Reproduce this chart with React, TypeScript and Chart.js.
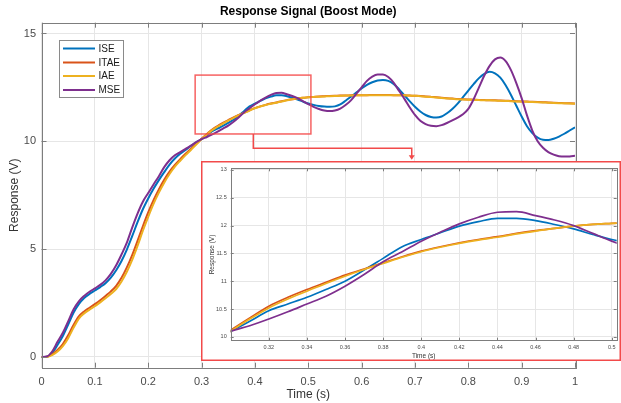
import { useEffect, useRef } from 'react';
import { Chart, registerables } from 'chart.js';

Chart.register(...registerables);

const FONT = "'Liberation Sans', Arial, Helvetica, sans-serif";

const times = [
  0, 0.01, 0.02, 0.03, 0.04, 0.05, 0.06, 0.07, 0.08, 0.09,
  0.1, 0.11, 0.12, 0.13, 0.14, 0.15, 0.16, 0.17, 0.18, 0.19,
  0.2, 0.21, 0.22, 0.23, 0.24, 0.25, 0.26, 0.27, 0.28, 0.29,
  0.3, 0.31, 0.32, 0.33, 0.34, 0.35, 0.36, 0.37, 0.38, 0.39,
  0.4, 0.41, 0.42, 0.43, 0.44, 0.45, 0.46, 0.47, 0.48, 0.49,
  0.5, 0.51, 0.52, 0.53, 0.54, 0.55, 0.56, 0.57, 0.58, 0.59,
  0.6, 0.61, 0.62, 0.63, 0.64, 0.65, 0.66, 0.67, 0.68, 0.69,
  0.7, 0.71, 0.72, 0.73, 0.74, 0.75, 0.76, 0.77, 0.78, 0.79,
  0.8, 0.81, 0.82, 0.83, 0.84, 0.85, 0.86, 0.87, 0.88, 0.89,
  0.9, 0.91, 0.92, 0.93, 0.94, 0.95, 0.96, 0.97, 0.98, 0.99,
  1.0,
];

const ise = [
  0, 0.01, 0.18, 0.55, 0.97, 1.5, 2.05, 2.45, 2.73, 2.92,
  3.08, 3.24, 3.42, 3.68, 4.02, 4.45, 4.98, 5.6, 6.25, 6.85,
  7.35, 7.8, 8.2, 8.57, 8.92, 9.2, 9.42, 9.6, 9.78, 9.95,
  10.1, 10.28, 10.47, 10.59, 10.71, 10.85, 11.0, 11.2, 11.41, 11.62,
  11.75, 11.87, 11.99, 12.07, 12.13, 12.13, 12.09, 12.02, 11.94, 11.84,
  11.75, 11.69, 11.64, 11.61, 11.6, 11.62, 11.71, 11.88, 12.07, 12.26,
  12.45, 12.62, 12.74, 12.82, 12.84, 12.8, 12.66, 12.42, 12.14, 11.86,
  11.6, 11.38, 11.22, 11.13, 11.1, 11.15, 11.3, 11.5, 11.75, 12.05,
  12.35, 12.65, 12.93, 13.13, 13.22, 13.15, 12.95, 12.6, 12.15, 11.65,
  11.15, 10.7, 10.38, 10.17, 10.07, 10.06, 10.12, 10.22, 10.35, 10.5,
  10.65,
];

const itae = [
  0, 0.01, 0.12, 0.32, 0.6, 1.0, 1.48, 1.88, 2.11, 2.28,
  2.45, 2.63, 2.83, 3.04, 3.3, 3.67, 4.15, 4.72, 5.38, 6.06,
  6.7, 7.27, 7.77, 8.21, 8.59, 8.9, 9.17, 9.42, 9.65, 9.88,
  10.12, 10.34, 10.55, 10.71, 10.85, 10.98, 11.11, 11.22, 11.33, 11.44,
  11.54, 11.62, 11.69, 11.75, 11.8, 11.86, 11.91, 11.95, 11.99, 12.02,
  12.04, 12.06, 12.08, 12.09, 12.1, 12.11, 12.12, 12.12, 12.13, 12.13,
  12.14, 12.14, 12.15, 12.15, 12.15, 12.15, 12.14, 12.14, 12.13, 12.12,
  12.11, 12.1, 12.08, 12.06, 12.04, 12.02, 12.0, 11.98, 11.96, 11.95,
  11.94, 11.93, 11.92, 11.91, 11.9, 11.9, 11.89, 11.88, 11.87, 11.86,
  11.85, 11.84, 11.83, 11.82, 11.81, 11.8, 11.79, 11.78, 11.77, 11.76,
  11.75,
];

const iae = [
  0, 0, 0.08, 0.25, 0.5, 0.87, 1.35, 1.78, 2.02, 2.19,
  2.35, 2.53, 2.72, 2.92, 3.15, 3.5, 3.95, 4.5, 5.15, 5.85,
  6.5, 7.1, 7.62, 8.08, 8.48, 8.82, 9.1, 9.36, 9.6, 9.85,
  10.1, 10.32, 10.52, 10.68, 10.82, 10.96, 11.09, 11.21, 11.32, 11.43,
  11.53, 11.61, 11.68, 11.74, 11.79, 11.85, 11.9, 11.95, 11.99, 12.02,
  12.04, 12.06, 12.07, 12.08, 12.09, 12.1, 12.11, 12.12, 12.12, 12.13,
  12.13, 12.14, 12.14, 12.14, 12.14, 12.14, 12.14, 12.13, 12.13, 12.12,
  12.11, 12.09, 12.07, 12.05, 12.03, 12.01, 11.99, 11.97, 11.95, 11.94,
  11.93, 11.92, 11.91, 11.9, 11.9, 11.89, 11.88, 11.87, 11.86, 11.85,
  11.84, 11.83, 11.82, 11.81, 11.8, 11.79, 11.78, 11.77, 11.76, 11.75,
  11.74,
];

const mse = [
  0, 0.02, 0.25, 0.7, 1.12, 1.65, 2.2, 2.58, 2.83, 3.02,
  3.18, 3.34, 3.55, 3.85, 4.25, 4.75, 5.3, 6.0, 6.65, 7.2,
  7.6, 8.0, 8.38, 8.8, 9.12, 9.35, 9.5, 9.65, 9.8, 9.96,
  10.1, 10.2, 10.32, 10.45, 10.59, 10.73, 10.91, 11.12, 11.35, 11.53,
  11.72, 11.88, 12.03, 12.15, 12.24, 12.25, 12.18, 12.1, 12.0, 11.86,
  11.72, 11.6, 11.5, 11.43, 11.4, 11.43, 11.52, 11.68, 11.9, 12.2,
  12.5, 12.8, 13.0, 13.1, 13.1, 12.98, 12.72, 12.35, 11.98, 11.58,
  11.22, 10.95, 10.8, 10.72, 10.7, 10.75, 10.85, 10.97, 11.1, 11.25,
  11.5, 11.95, 12.5, 13.05, 13.5, 13.8, 13.89, 13.72, 13.3, 12.7,
  12.0, 11.2, 10.5, 10.0, 9.7, 9.5, 9.38, 9.31, 9.29, 9.3,
  9.33,
];

const seriesLabels = ['ISE', 'ITAE', 'IAE', 'MSE'];
const seriesColors = ['#0072BD', '#D95319', '#EDB120', '#7E2F8E'];
const seriesData = [ise, itae, iae, mse];

const xTicks = [0, 0.1, 0.2, 0.3, 0.4, 0.5, 0.6, 0.7, 0.8, 0.9, 1];
const xTickLabels = ['0', '0.1', '0.2', '0.3', '0.4', '0.5', '0.6', '0.7', '0.8', '0.9', '1'];
const yTicks = [0, 5, 10, 15];
const yTickLabels = ['0', '5', '10', '15'];

const insetXTicks = [0.32, 0.34, 0.36, 0.38, 0.4, 0.42, 0.44, 0.46, 0.48, 0.5];
const insetXTickLabels = ['0.32', '0.34', '0.36', '0.38', '0.4', '0.42', '0.44', '0.46', '0.48', '0.5'];
const insetYTicks = [10, 10.5, 11, 11.5, 12, 12.5, 13];
const insetYTickLabels = ['10', '10.5', '11', '11.5', '12', '12.5', '13'];

// zoom window drawn on the main axes (data coordinates)
const zoomBox = { x0: 0.288, x1: 0.505, y0: 10.34, y1: 13.07 };
const connector = { xStart: 0.397, yElbow: 9.68, xEnd: 0.694, yEnd: 9.14 };

const TITLE = 'Response Signal (Boost Mode)';
const X_LABEL = 'Time (s)';
const Y_LABEL = 'Response (V)';

const GRID = '#e6e6e6';
const AXIS = '#7d7d7d';
const TICKTXT = '#4a4a4a';
const RED = '#f24a4a';

function makeDatasets(width: number) {
  // drawing order: ISE bottom, MSE on top
  const orders = [3, 2, 1, 0];
  return seriesData.map((arr, k) => ({
    label: seriesLabels[k],
    data: times.map((t, i) => ({ x: t, y: arr[i] })),
    borderColor: seriesColors[k],
    backgroundColor: seriesColors[k],
    borderWidth: width,
    pointRadius: 0,
    fill: false,
    cubicInterpolationMode: 'monotone' as const,
    order: orders[k],
  }));
}

function drawFrame(chart: any, tickLen: number) {
  const { ctx, chartArea: a, scales } = chart;
  ctx.save();
  ctx.strokeStyle = AXIS;
  ctx.lineWidth = 1;
  ctx.beginPath();
  scales.x.ticks.forEach((t: any) => {
    const px = Math.round(scales.x.getPixelForValue(t.value)) + 0.5;
    ctx.moveTo(px, a.bottom);
    ctx.lineTo(px, a.bottom - tickLen);
    ctx.moveTo(px, a.top);
    ctx.lineTo(px, a.top + tickLen);
  });
  scales.y.ticks.forEach((t: any) => {
    const py = Math.round(scales.y.getPixelForValue(t.value)) + 0.5;
    ctx.moveTo(a.left, py);
    ctx.lineTo(a.left + tickLen, py);
    ctx.moveTo(a.right, py);
    ctx.lineTo(a.right - tickLen, py);
  });
  ctx.stroke();
  ctx.strokeRect(Math.round(a.left) + 0.5, Math.round(a.top) + 0.5, Math.round(a.right - a.left), Math.round(a.bottom - a.top));
  ctx.restore();
}

const mainDecor = {
  id: 'mainDecor',
  beforeDraw(chart: any) {
    const { ctx, width, height } = chart;
    ctx.save();
    ctx.fillStyle = '#ffffff';
    ctx.fillRect(0, 0, width, height);
    ctx.restore();
  },
  afterDatasetsDraw(chart: any) {
    const { ctx, chartArea: a, scales } = chart;
    drawFrame(chart, 5);
    const cx = (a.left + a.right) / 2;
    ctx.save();
    // title and labels
    ctx.fillStyle = '#000000';
    ctx.textAlign = 'center';
    ctx.textBaseline = 'middle';
    ctx.font = `bold 12px ${FONT}`;
    ctx.fillText(TITLE, cx, 12);
    ctx.fillStyle = '#333333';
    ctx.font = `12px ${FONT}`;
    ctx.fillText(X_LABEL, cx, 395);
    ctx.save();
    ctx.translate(15, (a.top + a.bottom) / 2);
    ctx.rotate(-Math.PI / 2);
    ctx.fillText(Y_LABEL, 0, 0);
    ctx.restore();

    // zoom rectangle
    const x = scales.x, y = scales.y;
    const rx0 = x.getPixelForValue(zoomBox.x0), rx1 = x.getPixelForValue(zoomBox.x1);
    const ry0 = y.getPixelForValue(zoomBox.y1), ry1 = y.getPixelForValue(zoomBox.y0);
    ctx.strokeStyle = 'rgba(245,70,70,0.85)';
    ctx.lineWidth = 1.5;
    ctx.strokeRect(rx0, ry0, rx1 - rx0, ry1 - ry0);

    // connector with arrow
    const sx = x.getPixelForValue(connector.xStart);
    const ey = y.getPixelForValue(connector.yElbow);
    const ex = x.getPixelForValue(connector.xEnd);
    const ay = y.getPixelForValue(connector.yEnd);
    ctx.strokeStyle = RED;
    ctx.lineWidth = 1.5;
    ctx.beginPath();
    ctx.moveTo(sx, ry1);
    ctx.lineTo(sx, ey);
    ctx.lineTo(ex, ey);
    ctx.lineTo(ex, ay - 3);
    ctx.stroke();
    ctx.fillStyle = RED;
    ctx.beginPath();
    ctx.moveTo(ex - 3, ay - 4.5);
    ctx.lineTo(ex + 3, ay - 4.5);
    ctx.lineTo(ex, ay);
    ctx.closePath();
    ctx.fill();

    // legend
    const lx = 59.5, ly = 40.5, lw = 64, lh = 57;
    ctx.fillStyle = '#ffffff';
    ctx.fillRect(lx, ly, lw, lh);
    ctx.strokeStyle = '#8a8a8a';
    ctx.lineWidth = 1;
    ctx.strokeRect(lx, ly, lw, lh);
    const rows = [48.5, 62.5, 76, 90];
    ctx.font = `10px ${FONT}`;
    ctx.textAlign = 'left';
    ctx.textBaseline = 'middle';
    seriesLabels.forEach((lab, k) => {
      ctx.strokeStyle = seriesColors[k];
      ctx.lineWidth = 2;
      ctx.beginPath();
      ctx.moveTo(63, rows[k]);
      ctx.lineTo(95, rows[k]);
      ctx.stroke();
      ctx.fillStyle = '#1a1a1a';
      ctx.fillText(lab, 98.5, rows[k] + 0.5);
    });
    ctx.restore();
  },
};

const insetDecor = {
  id: 'insetDecor',
  beforeDraw(chart: any) {
    const { ctx, width, height } = chart;
    ctx.save();
    ctx.fillStyle = '#ffffff';
    ctx.fillRect(0, 0, width, height);
    ctx.restore();
  },
  afterDatasetsDraw(chart: any) {
    const { ctx, chartArea: a, width, height } = chart;
    drawFrame(chart, 3);
    ctx.save();
    ctx.fillStyle = '#333333';
    ctx.textAlign = 'center';
    ctx.textBaseline = 'middle';
    ctx.font = `6.5px ${FONT}`;
    ctx.fillText(X_LABEL, (a.left + a.right) / 2, 195.5);
    ctx.translate(11, (a.top + a.bottom) / 2);
    ctx.rotate(-Math.PI / 2);
    ctx.fillText(Y_LABEL, 0, 0);
    ctx.restore();
    ctx.save();
    ctx.strokeStyle = RED;
    ctx.lineWidth = 1.5;
    ctx.strokeRect(0.75, 0.75, width - 1.5, height - 1.5);
    ctx.restore();
  },
};

export default function App() {
  const mainRef = useRef<HTMLCanvasElement>(null);
  const insetRef = useRef<HTMLCanvasElement>(null);

  useEffect(() => {
    document.body.style.margin = '0';
    const main = new Chart(mainRef.current as HTMLCanvasElement, {
      type: 'line',
      data: { datasets: makeDatasets(2) as any },
      options: {
        animation: false,
        responsive: false,
        devicePixelRatio: 1,
        layout: { padding: { left: 0, top: 22.7, right: 46, bottom: 0 } },
        plugins: { legend: { display: false }, tooltip: { enabled: false }, title: { display: false } },
        scales: {
          x: {
            type: 'linear',
            min: 0,
            max: 1,
            afterBuildTicks: (s: any) => { s.ticks = xTicks.map((v) => ({ value: v })); },
            afterFit: (s: any) => { s.height = 35.3; },
            ticks: {
              callback: (_v: any, i: number) => xTickLabels[i],
              color: TICKTXT,
              font: { family: FONT, size: 11 },
              padding: 8,
              maxRotation: 0,
              autoSkip: false,
            },
            grid: { color: GRID, drawTicks: false },
            border: { display: false },
          },
          y: {
            type: 'linear',
            min: -0.5,
            max: 15.5,
            afterBuildTicks: (s: any) => { s.ticks = yTicks.map((v) => ({ value: v })); },
            afterFit: (s: any) => { s.width = 41.5; },
            ticks: {
              callback: (_v: any, i: number) => yTickLabels[i],
              color: TICKTXT,
              font: { family: FONT, size: 11 },
              padding: 5.5,
              autoSkip: false,
            },
            grid: { color: GRID, drawTicks: false },
            border: { display: false },
          },
        },
      },
      plugins: [mainDecor],
    });

    const inset = new Chart(insetRef.current as HTMLCanvasElement, {
      type: 'line',
      data: { datasets: makeDatasets(1.7) as any },
      options: {
        animation: false,
        responsive: false,
        devicePixelRatio: 1,
        layout: { padding: { left: 0, top: 4, right: 4.3, bottom: 0 } },
        plugins: { legend: { display: false }, tooltip: { enabled: false }, title: { display: false } },
        scales: {
          x: {
            type: 'linear',
            min: 0.3,
            max: 0.5026,
            afterBuildTicks: (s: any) => { s.ticks = insetXTicks.map((v) => ({ value: v })); },
            afterFit: (s: any) => { s.height = 20.3; },
            ticks: {
              callback: (_v: any, i: number) => insetXTickLabels[i],
              color: TICKTXT,
              font: { family: FONT, size: 5.5 },
              padding: 3,
              maxRotation: 0,
              autoSkip: false,
            },
            grid: { color: GRID, drawTicks: false },
            border: { display: false },
          },
          y: {
            type: 'linear',
            min: 9.93,
            max: 13.03,
            afterBuildTicks: (s: any) => { s.ticks = insetYTicks.map((v) => ({ value: v })); },
            afterFit: (s: any) => { s.width = 29.7; },
            ticks: {
              callback: (_v: any, i: number) => insetYTickLabels[i],
              color: TICKTXT,
              font: { family: FONT, size: 5.5 },
              padding: 4,
              autoSkip: false,
            },
            grid: { color: GRID, drawTicks: false },
            border: { display: false },
          },
        },
      },
      plugins: [insetDecor],
    });

    return () => {
      main.destroy();
      inset.destroy();
    };
  }, []);

  return (
    <div style={{ position: 'relative', width: 621, height: 403, overflow: 'hidden' }}>
      <canvas ref={mainRef} width={621} height={403} style={{ position: 'absolute', left: 0, top: 0 }} />
      <canvas ref={insetRef} width={420} height={200} style={{ position: 'absolute', left: 201, top: 161 }} />
    </div>
  );
}
